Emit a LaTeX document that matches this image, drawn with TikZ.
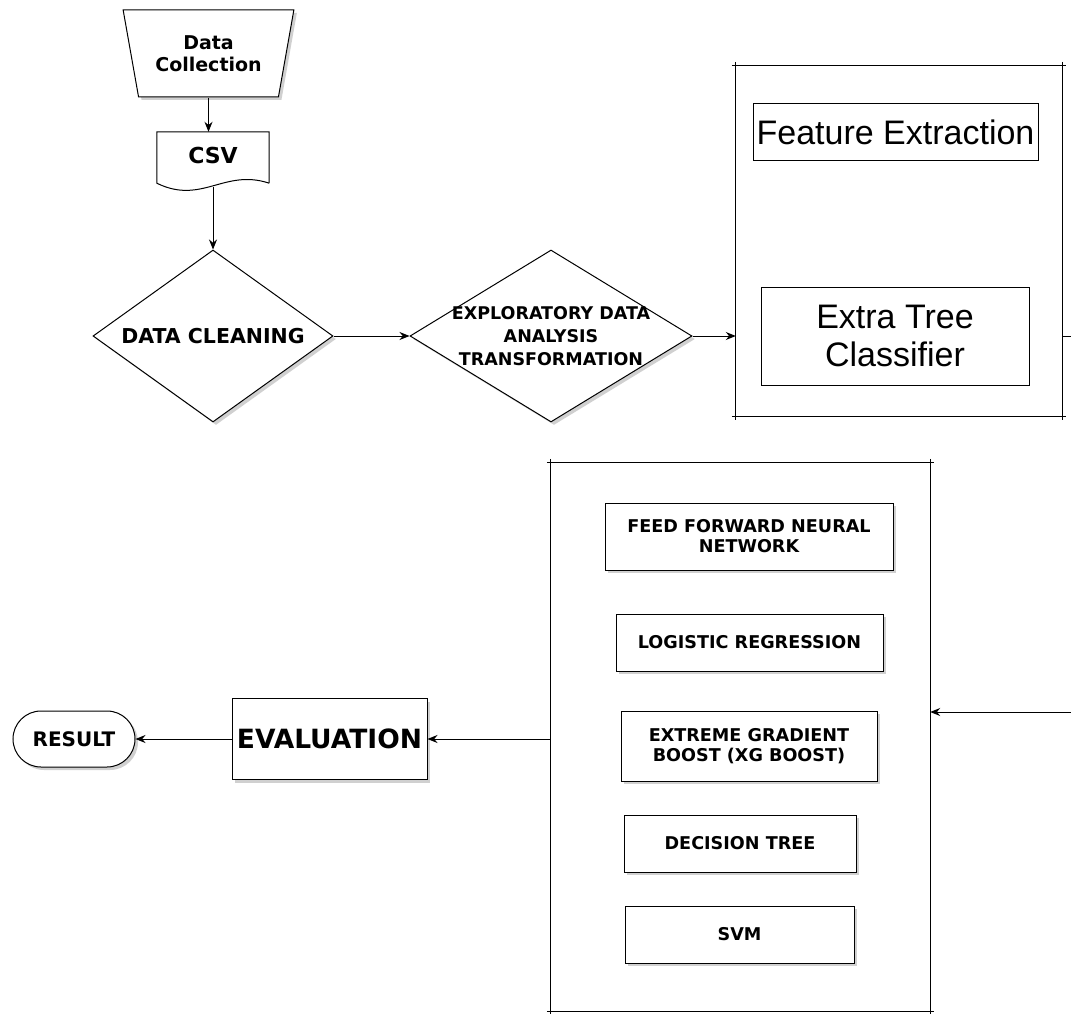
\documentclass[tikz,border=0pt]{standalone}
\usepackage{fontspec}
\setmainfont{DejaVu Sans}
\newfontfamily\arialfont{Liberation Sans}
\usepackage{xcolor}
\usepackage{tikz}
\usetikzlibrary{
  arrows.meta,
  positioning,
  shapes.geometric,
  shapes.misc,
  calc,
  shadows
}
\definecolor{FlowInk}{HTML}{000000}
\definecolor{FlowShade}{HTML}{BDBDBD}
\definecolor{FlowPaper}{HTML}{FFFFFF}

\tikzset{
  flowline/.style={draw=FlowInk, line width=1pt},
  flowarrow/.style={flowline, -{Stealth[length=10pt,width=8pt]}},
  softshadow/.style={drop shadow={shadow xshift=3pt, shadow yshift=-3pt,
      fill=FlowShade, opacity=0.7}},
  stepbox/.style={rectangle, flowline, fill=FlowPaper, softshadow, inner sep=0pt,
      align=center, font=\fontsize{17.6}{20}\selectfont\bfseries},
  decision/.style={diamond, flowline, fill=FlowPaper, softshadow,
      inner sep=0pt, align=center, minimum height=172pt},
  holder/.style={rectangle, draw=none, inner sep=0pt},
  frameline/.style={flowline, shorten <=-4pt, shorten >=-4pt}
}

\begin{document}
\begin{tikzpicture}[x=1pt, y=-1pt]
  \useasboundingbox[fill=FlowPaper] (0,0) rectangle (1071,1014);

  % upper chain
  \node (datacoll) [trapezium, shape border rotate=180, trapezium stretches=true,
        trapezium left angle=72, trapezium right angle=72, flowline, fill=FlowPaper,
        softshadow, minimum width=171pt, minimum height=87pt, inner sep=0pt,
        align=center, font=\fontsize{19}{22}\selectfont\bfseries]
        at (208.5,53.5) {Data\\Collection};

  \node (csv) [holder, minimum width=112pt, minimum height=51pt] at (213,157.5) {};
  \draw[flowline, fill=FlowPaper] (csv.south east) -- (csv.north east) -- (csv.north west)
        -- (csv.south west)
        .. controls ([shift={(45,22)}]csv.south west) and ([shift={(-45,-15)}]csv.south east)
        .. (csv.south east);
  \node [font=\fontsize{22}{24}\selectfont\bfseries] at ([yshift=2pt]csv.center) {CSV};

  \node (clean) [decision, aspect=1.4, minimum width=240pt,
        font=\fontsize{20.5}{23}\selectfont\bfseries] at (213,336) {DATA CLEANING};
  \node (eda) [decision, aspect=1.64, inner xsep=-12pt, minimum width=282pt,
        font=\fontsize{17.5}{23}\selectfont\bfseries] at (551,336)
        {EXPLORATORY DATA\\ANALYSIS\\TRANSFORMATION};

  % feature block
  \node (featbox) [holder, minimum width=326pt, minimum height=350pt] at (899,241) {};
  \node (featext) [rectangle, flowline, fill=FlowPaper, minimum width=285pt,
        minimum height=57pt, inner sep=0pt, font=\arialfont\fontsize{34}{38}\selectfont]
        at (895.5,132.5) {Feature Extraction};
  \node (extratree) [rectangle, flowline, fill=FlowPaper, minimum width=268pt,
        minimum height=98pt, inner sep=0pt, align=center,
        font=\arialfont\fontsize{34}{38}\selectfont]
        at (895,336) {Extra Tree\\Classifier};

  % model block
  \node (modelbox) [holder, minimum width=379pt, minimum height=548pt] at (740.5,737) {};
  \node (ffnn) [stepbox, minimum width=288pt, minimum height=67pt] at (749,536.5)
        {FEED FORWARD NEURAL\\NETWORK};
  \node (logreg) [stepbox, minimum width=267pt, minimum height=57pt] at (749.5,642.5)
        {LOGISTIC REGRESSION};
  \node (xgb) [stepbox, minimum width=256pt, minimum height=70pt] at (749,746)
        {EXTREME GRADIENT\\BOOST (XG BOOST)};
  \node (dtree) [stepbox, minimum width=232pt, minimum height=57pt] at (740,843.5)
        {DECISION TREE};
  \node (svm) [stepbox, minimum width=229pt, minimum height=57pt] at (739.5,934.5)
        {SVM};

  \foreach \blk in {featbox, modelbox} {
    \draw[frameline] (\blk.north west) -- (\blk.north east);
    \draw[frameline] (\blk.south west) -- (\blk.south east);
    \draw[frameline] (\blk.north west) -- (\blk.south west);
    \draw[frameline] (\blk.north east) -- (\blk.south east);
  }

  % lower chain
  \node (evalbox) [stepbox, minimum width=195pt, minimum height=81pt,
        font=\fontsize{26.5}{28}\selectfont\bfseries] at (329.5,739) {EVALUATION};
  \node (result) [rounded rectangle, flowline, fill=FlowPaper, softshadow,
        minimum width=122pt, minimum height=56pt, inner sep=0pt,
        font=\fontsize{20}{22}\selectfont\bfseries] at (74,739) {RESULT};

  % connectors
  \draw[flowarrow] (datacoll.south) -- (datacoll.south |- csv.north);
  \draw[flowarrow] ([yshift=-4pt]csv.south) -- (clean.north);
  \draw[flowarrow] (clean.east) -- (eda.west);
  \draw[flowarrow] (eda.east) -- (featbox.west |- eda.east);
  \draw[flowarrow] (featbox.east |- extratree.east) -- ++(40,0)
        |- ([yshift=25pt]modelbox.east);
  \draw[flowarrow] (modelbox.west |- evalbox.east) -- (evalbox.east);
  \draw[flowarrow] (evalbox.west) -- (result.east);
\end{tikzpicture}
\end{document}
